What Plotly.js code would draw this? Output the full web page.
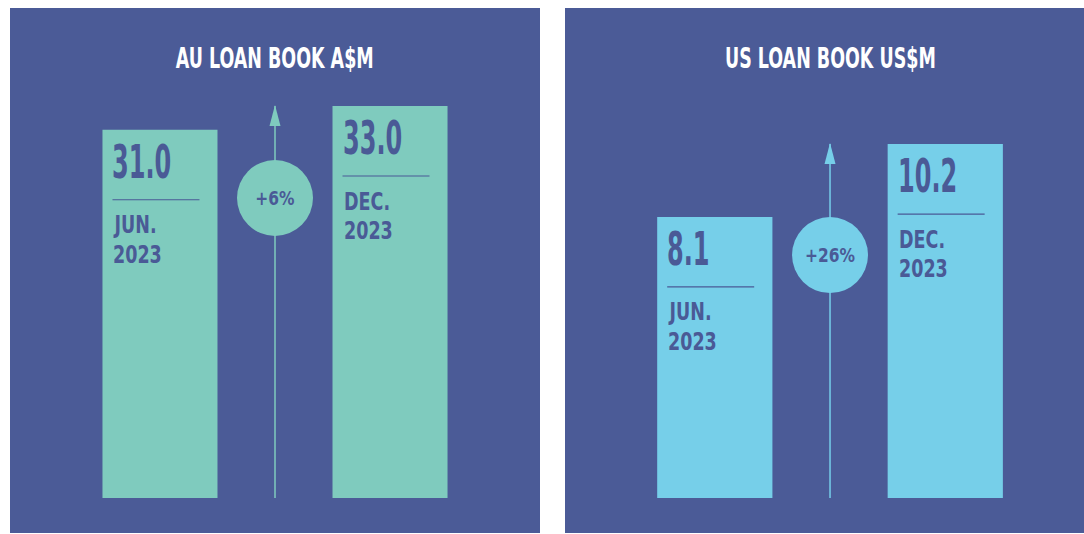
<!DOCTYPE html>
<html>
<head>
<meta charset="utf-8">
<script src="https://cdn.plot.ly/plotly-3.0.1.min.js"></script>
<style>html,body{margin:0;padding:0;background:#ffffff;}#chart{width:1084px;height:534px;}</style>
</head>
<body>
<div id="chart"></div>
<script>
// ---- data ----
const categories = ["JUN. 2023", "DEC. 2023"];
const auValues = [31.0, 33.0];
const usValues = [8.1, 10.2];
const changeLabels = ["+6%", "+26%"];
const panelTitles = ["AU LOAN BOOK A$M", "US LOAN BOOK US$M"];

// ---- style ----
const bg = '#4B5B97';
const ink = '#4A5A96';
const barColors = ['#7FCBBE', '#76CFE9'];
const FONT = '"Liberation Sans Narrow", "DejaVu Sans Condensed", "Roboto", sans-serif';
const circleOffsets = [92, 111];

const panelValues = [auValues, usValues];
const traces = [];
const shapes = [];
const annotations = [];
const squeeze = [];   // horizontal text compression per annotation (style only)

function addAnn(a, s) { annotations.push(a); squeeze.push(s); }

panelValues.forEach(function (values, p) {
  const xa = p === 0 ? 'x' : 'x2';
  const ya = p === 0 ? 'y' : 'y2';
  const color = barColors[p];
  const top = Math.max.apply(null, values);
  const mid = (values.length - 1) / 2;

  traces.push({
    type: 'bar', x: categories, y: values, xaxis: xa, yaxis: ya,
    marker: {color: color, line: {width: 0}}, hoverinfo: 'skip', showlegend: false
  });

  // panel background
  shapes.push({type: 'rect', layer: 'below', xref: xa + ' domain', yref: 'paper',
    x0: 0, x1: 1, y0: 1 / 534, y1: 526 / 534, fillcolor: bg, line: {width: 0}});

  // title
  addAnn({xref: xa, yref: 'paper', x: mid, y: (534 - 58) / 534, yanchor: 'middle',
    text: panelTitles[p], showarrow: false, font: {family: FONT, size: 29, color: '#ffffff', weight: 'bold'}}, 0.67);

  // arrow line and head
  shapes.push({type: 'line', xref: xa, yref: ya, x0: mid, x1: mid, y0: 0, y1: top,
    line: {color: color, width: 1.5}});
  shapes.push({type: 'path', xref: xa, yref: ya, xsizemode: 'pixel', ysizemode: 'pixel',
    xanchor: mid, yanchor: top, path: 'M0,1 L5.5,-20 L-5.5,-20 Z', fillcolor: color, line: {width: 0}});

  // change circle
  const off = circleOffsets[p];
  shapes.push({type: 'circle', xref: xa, yref: ya, xsizemode: 'pixel', ysizemode: 'pixel',
    xanchor: mid, yanchor: top, x0: -38, x1: 38, y0: -off - 38, y1: -off + 38,
    fillcolor: color, line: {width: 0}});
  addAnn({xref: xa, yref: ya, x: mid, y: top, yshift: -off, showarrow: false,
    text: changeLabels[p], font: {family: FONT, size: 20, color: ink, weight: 'bold'}}, 0.86);

  // labels inside bars
  values.forEach(function (v, i) {
    const left = i - 0.25;
    addAnn({xref: xa, yref: ya, x: left, y: v, xanchor: 'left', xshift: 8,
      yanchor: 'middle', yshift: -32, showarrow: false, text: v.toFixed(1),
      font: {family: FONT, size: 46, color: ink, weight: 'bold'}}, 0.58);
    shapes.push({type: 'line', xref: xa, yref: ya, xsizemode: 'pixel', ysizemode: 'pixel',
      xanchor: left, yanchor: v, x0: 10, x1: 97, y0: -70, y1: -70, line: {color: ink, width: 1.2}});
    categories[i].split(' ').forEach(function (part, k) {
      addAnn({xref: xa, yref: ya, x: left, y: v, xanchor: 'left', xshift: 9,
        yanchor: 'middle', yshift: -(95 + 29.5 * k), showarrow: false, text: part,
        font: {family: FONT, size: 25, color: ink, weight: 'bold'}}, 0.78);
    });
  });
});

const hidden = {visible: false, showgrid: false, zeroline: false, fixedrange: true};
const layout = {
  width: 1084, height: 534,
  margin: {l: 0, r: 0, t: 0, b: 0},
  paper_bgcolor: '#ffffff', plot_bgcolor: 'rgba(0,0,0,0)',
  bargap: 0.5,
  showlegend: false,
  xaxis: Object.assign({}, hidden, {type: 'category', domain: [10 / 1084, 540 / 1084], range: [-0.652, 1.652], anchor: 'y'}),
  yaxis: Object.assign({}, hidden, {domain: [36 / 534, 526 / 534], range: [0, 41.25], anchor: 'x'}),
  xaxis2: Object.assign({}, hidden, {type: 'category', domain: [565 / 1084, 1], range: [-0.65, 1.602], anchor: 'y2'}),
  yaxis2: Object.assign({}, hidden, {domain: [36 / 534, 526 / 534], range: [0, 14.12], anchor: 'x2'}),
  shapes: shapes,
  annotations: annotations
};

Plotly.newPlot('chart', traces, layout, {displayModeBar: false, staticPlot: true}).then(function (gd) {
  gd.querySelectorAll('g.annotation').forEach(function (g) {
    const idx = +g.getAttribute('data-index');
    const t = g.querySelector('text.annotation-text');
    if (!t || isNaN(idx)) return;
    const a = annotations[idx];
    t.style.transformBox = 'fill-box';
    t.style.transformOrigin = a.xanchor === 'left' ? '0% 50%' : '50% 50%';
    t.style.transform = 'scaleX(' + squeeze[idx] + ')';
  });
});
</script>
</body>
</html>
